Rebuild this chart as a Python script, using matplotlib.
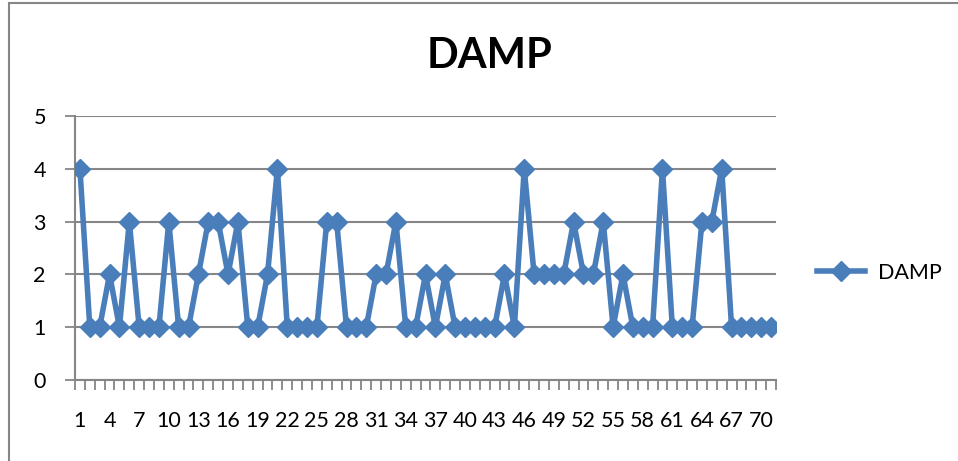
import matplotlib.pyplot as plt
from matplotlib.patches import Rectangle
from matplotlib.lines import Line2D

plt.rcParams['font.family'] = ['Lato', 'DejaVu Sans']

# DAMP score per record
records = list(range(1, 72))
damp = [4, 1, 1, 2, 1, 3, 1, 1, 1, 3,
        1, 1, 2, 3, 3, 2, 3, 1, 1, 2,
        4, 1, 1, 1, 1, 3, 3, 1, 1, 1,
        2, 2, 3, 1, 1, 2, 1, 2, 1, 1,
        1, 1, 1, 2, 1, 4, 2, 2, 2, 2,
        3, 2, 2, 3, 1, 2, 1, 1, 1, 4,
        1, 1, 1, 3, 3, 4, 1, 1, 1, 1,
        1]
tick_labels = [str(r) for r in records[::3]]

blue = '#4A7EBB'
grey = '#868686'

fig = plt.figure(figsize=(9.58, 4.61), dpi=100)
fig.patches.append(Rectangle((9 / 958, -0.1), 1.2, 1.1 - 3 / 461,
                             transform=fig.transFigure, fill=False,
                             edgecolor=grey, lw=1.5))

ax = fig.add_axes([75 / 958, 1 - 380 / 461, 701 / 958, 264 / 461])
ax.plot(records, damp, color=blue, lw=4, marker='D', markersize=10,
        markerfacecolor=blue, markeredgecolor=blue, label='DAMP', zorder=3)

ax.set_xlim(0.5, 71.5)
ax.set_ylim(0, 5)
ax.set_yticks(range(0, 6))
ax.yaxis.grid(True, color=grey, lw=1.5)
ax.set_axisbelow(True)
for s in ['top', 'right']:
    ax.spines[s].set_visible(False)
for s in ['left', 'bottom']:
    ax.spines[s].set_color(grey)
    ax.spines[s].set_linewidth(1.5)

ax.set_xticks(records[::3])
ax.set_xticklabels(tick_labels)
ax.set_xticks([r + 0.5 for r in range(0, 72)], minor=True)
ax.tick_params(axis='x', which='major', length=0, pad=22, labelsize=15.5)
ax.tick_params(axis='x', which='minor', length=7, width=1.3, color=grey)
ax.tick_params(axis='y', length=7, width=1.3, color=grey, labelsize=15.5, pad=14)

fig.text(490 / 958, 1 - 56 / 461, 'DAMP', ha='center', va='center',
         fontsize=30, fontweight='bold')

handle = Line2D([], [], color=blue, lw=4, marker='D', markersize=10)
fig.legend([handle], ['DAMP'], loc='center left', frameon=False,
           bbox_to_anchor=(798 / 958, 1 - 273 / 461), fontsize=15.5,
           handlelength=2.2, handletextpad=0.6)

fig.savefig('out.png', dpi=100)
